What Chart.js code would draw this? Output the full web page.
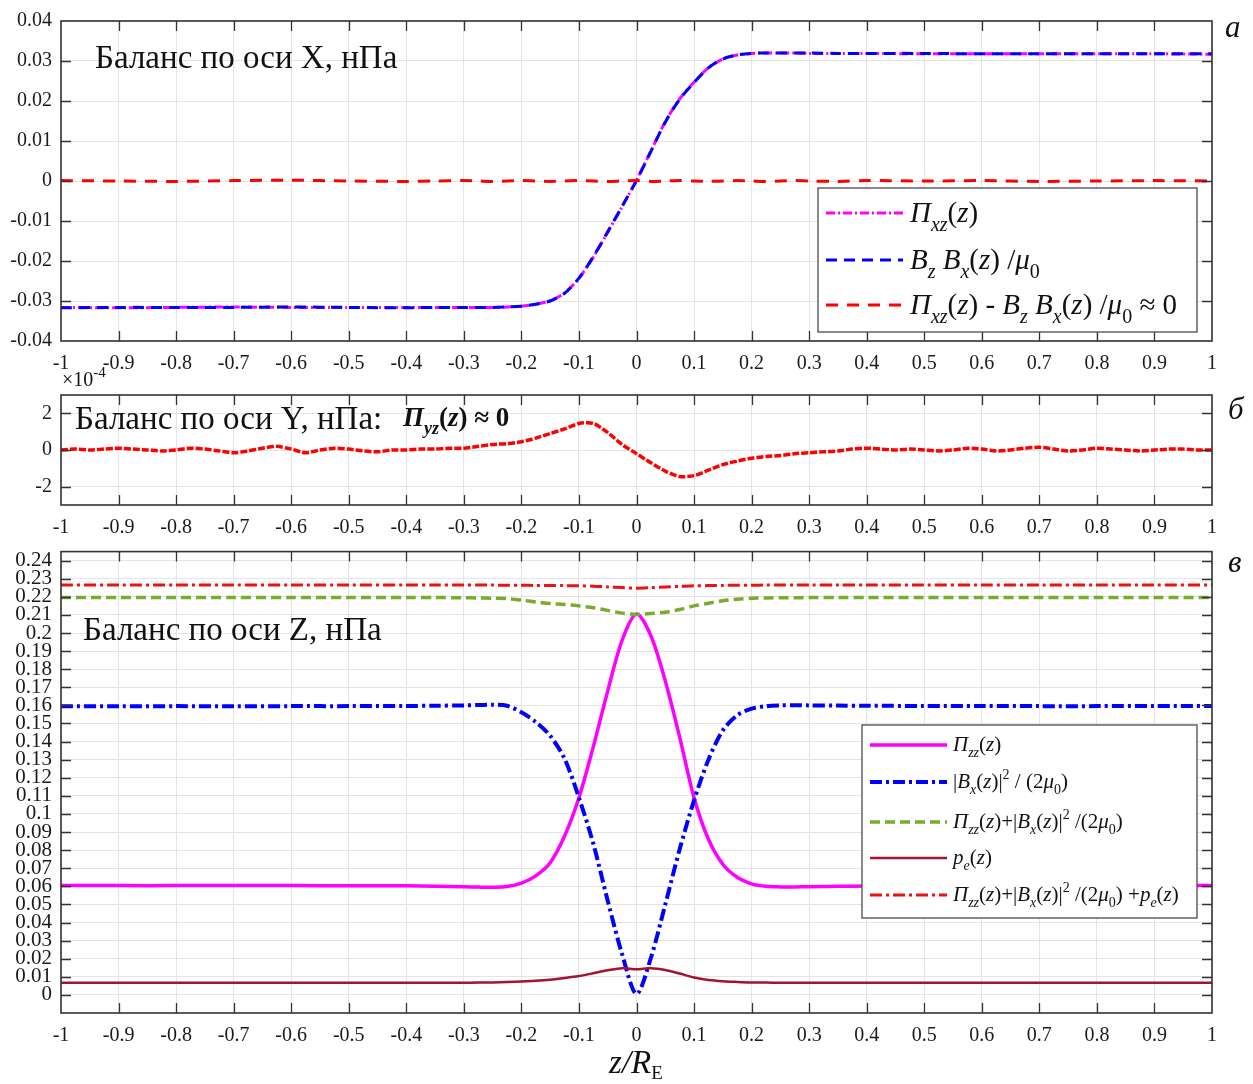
<!DOCTYPE html>
<html><head><meta charset="utf-8">
<script src="https://cdn.jsdelivr.net/npm/chart.js@4.4.1/dist/chart.umd.min.js"></script>
<style>
body{margin:0;background:#fff;width:1253px;height:1084px;overflow:hidden;position:relative}
canvas{position:absolute;left:0}
</style></head><body>
<canvas id="cA" width="1253" height="380" style="top:0px"></canvas>
<canvas id="cB" width="1253" height="180" style="top:360px"></canvas>
<canvas id="cC" width="1253" height="554" style="top:530px"></canvas>
<script>
// ---------- DATA ----------
const zCoarse = [-1,-0.9,-0.8,-0.7,-0.6,-0.5,-0.4,-0.35,-0.3,-0.275,-0.25,-0.225,-0.2,-0.175,-0.15,-0.125,-0.1,-0.075,-0.05,-0.025,0,0.025,0.05,0.075,0.1,0.125,0.15,0.175,0.2,0.225,0.25,0.275,0.3,0.35,0.4,0.5,0.6,0.7,0.8,0.9,1];
const zFine = [-1,-0.975,-0.95,-0.925,-0.9,-0.875,-0.85,-0.825,-0.8,-0.775,-0.75,-0.725,-0.7,-0.675,-0.65,-0.625,-0.6,-0.575,-0.55,-0.525,-0.5,-0.475,-0.45,-0.425,-0.4,-0.375,-0.35,-0.325,-0.3,-0.275,-0.25,-0.225,-0.2,-0.175,-0.15,-0.125,-0.1,-0.075,-0.05,-0.025,0,0.025,0.05,0.075,0.1,0.125,0.15,0.175,0.2,0.225,0.25,0.275,0.3,0.325,0.35,0.375,0.4,0.425,0.45,0.475,0.5,0.525,0.55,0.575,0.6,0.625,0.65,0.675,0.7,0.725,0.75,0.775,0.8,0.825,0.85,0.875,0.9,0.925,0.95,0.975,1];

// panel a (nPa)
const piXZ = [-0.0316,-0.0317,-0.0316,-0.0315,-0.0316,-0.0316,-0.0316,-0.0316,-0.0316,-0.0316,-0.0316,-0.0315,-0.0313,-0.0308,-0.0299,-0.0280,-0.0243,-0.0190,-0.0128,-0.0064,0.0002,0.0075,0.0148,0.0205,0.0247,0.0283,0.0305,0.0315,0.0319,0.0320,0.0320,0.0320,0.0319,0.0319,0.0319,0.0318,0.0318,0.0318,0.0318,0.0318,0.0317];
const bzBx = [-0.0317,-0.0316,-0.0316,-0.0316,-0.0315,-0.0316,-0.0317,-0.0316,-0.0316,-0.0316,-0.0316,-0.0315,-0.0313,-0.0308,-0.0300,-0.0281,-0.0243,-0.0189,-0.0127,-0.0063,0.0001,0.0074,0.0147,0.0204,0.0246,0.0283,0.0305,0.0315,0.0319,0.0320,0.0320,0.0320,0.0320,0.0319,0.0319,0.0319,0.0318,0.0318,0.0318,0.0318,0.0318];
const diffXZ = [0.0001,0.0000,-0.0001,0.0001,0.0002,0.0000,-0.0001,0.0000,0.0001,0.0000,-0.0001,0.0000,0.0001,0.0000,-0.0001,0.0000,0.0001,0.0000,-0.0001,0.0000,0.0001,-0.0001,0.0000,0.0001,0.0000,-0.0001,0.0000,0.0001,0.0000,-0.0001,0.0000,0.0001,0.0000,-0.0001,0.0001,0.0000,0.0001,-0.0001,0.0000,0.0001,0.0000];

// panel b (units of 1e-4 nPa)
const piYZ = [0.00,0.05,0.00,0.05,0.10,0.05,0.00,-0.05,0.00,0.10,0.05,-0.05,-0.15,-0.05,0.10,0.20,0.05,-0.15,0.00,0.10,0.05,-0.05,-0.10,0.00,0.00,0.05,0.05,0.10,0.10,0.20,0.30,0.35,0.45,0.65,0.90,1.15,1.45,1.45,0.95,0.30,-0.20,-0.70,-1.15,-1.45,-1.40,-1.10,-0.80,-0.60,-0.45,-0.35,-0.30,-0.20,-0.15,-0.10,-0.05,0.05,0.10,0.05,0.00,0.05,0.00,-0.05,0.00,0.10,0.05,-0.05,0.00,0.10,0.15,0.05,-0.05,0.00,0.10,0.05,0.00,-0.05,0.00,0.05,0.05,0.00,0.00];

// panel c (nPa)
const piZZ = [0.0605,0.0604,0.0604,0.0605,0.0604,0.0603,0.0603,0.0601,0.0598,0.0596,0.0595,0.0599,0.0618,0.0658,0.0730,0.0878,0.1090,0.1372,0.1680,0.1960,0.2105,0.1985,0.1735,0.1425,0.1090,0.0860,0.0722,0.0650,0.0614,0.0600,0.0597,0.0597,0.0598,0.0600,0.0602,0.0603,0.0604,0.0604,0.0605,0.0605,0.0605];
const bx2 = [0.1595,0.1595,0.1596,0.1595,0.1596,0.1596,0.1597,0.1598,0.1600,0.1602,0.1604,0.1598,0.1562,0.1508,0.1432,0.1305,0.1090,0.0835,0.0520,0.0225,0.0005,0.0205,0.0500,0.0805,0.1075,0.1300,0.1462,0.1545,0.1582,0.1596,0.1600,0.1601,0.1600,0.1599,0.1598,0.1597,0.1597,0.1596,0.1596,0.1596,0.1596];
const sumZ = [0.2196,0.2196,0.2197,0.2196,0.2196,0.2196,0.2196,0.2196,0.2195,0.2194,0.2192,0.2190,0.2182,0.2172,0.2163,0.2158,0.2150,0.2140,0.2125,0.2110,0.2103,0.2108,0.2115,0.2130,0.2150,0.2165,0.2178,0.2187,0.2192,0.2194,0.2195,0.2195,0.2196,0.2196,0.2196,0.2197,0.2196,0.2196,0.2197,0.2196,0.2196];
const pE = [0.0067,0.0067,0.0067,0.0067,0.0067,0.0067,0.0067,0.0067,0.0067,0.0068,0.0069,0.0071,0.0074,0.0078,0.0084,0.0093,0.0104,0.0120,0.0136,0.0148,0.0142,0.0148,0.0138,0.0118,0.0096,0.0083,0.0076,0.0072,0.0069,0.0068,0.0067,0.0067,0.0067,0.0067,0.0067,0.0067,0.0067,0.0067,0.0067,0.0067,0.0067];
const totalZ = [0.2265,0.2265,0.2266,0.2265,0.2265,0.2265,0.2265,0.2265,0.2265,0.2265,0.2265,0.2264,0.2264,0.2263,0.2263,0.2262,0.2261,0.2259,0.2255,0.2251,0.2248,0.2251,0.2255,0.2258,0.2261,0.2262,0.2263,0.2264,0.2264,0.2265,0.2265,0.2265,0.2265,0.2265,0.2266,0.2265,0.2265,0.2266,0.2266,0.2266,0.2266];

// ticks
const xTicks = [-1,-0.9,-0.8,-0.7,-0.6,-0.5,-0.4,-0.3,-0.2,-0.1,0,0.1,0.2,0.3,0.4,0.5,0.6,0.7,0.8,0.9,1];
const xTickLabels = ['-1','-0.9','-0.8','-0.7','-0.6','-0.5','-0.4','-0.3','-0.2','-0.1','0','0.1','0.2','0.3','0.4','0.5','0.6','0.7','0.8','0.9','1'];
const yTicksA = [-0.04,-0.03,-0.02,-0.01,0,0.01,0.02,0.03,0.04];
const yTickLabelsA = ['-0.04','-0.03','-0.02','-0.01','0','0.01','0.02','0.03','0.04'];
const yTicksB = [-2,0,2];
const yTickLabelsB = ['-2','0','2'];
const yTicksC = [0,0.01,0.02,0.03,0.04,0.05,0.06,0.07,0.08,0.09,0.1,0.11,0.12,0.13,0.14,0.15,0.16,0.17,0.18,0.19,0.2,0.21,0.22,0.23,0.24];
const yTickLabelsC = ['0','0.01','0.02','0.03','0.04','0.05','0.06','0.07','0.08','0.09','0.1','0.11','0.12','0.13','0.14','0.15','0.16','0.17','0.18','0.19','0.2','0.21','0.22','0.23','0.24'];

// ---------- HELPERS ----------
const SERIF = "'Liberation Serif','Times New Roman',serif";
const pts = (zs, vs) => zs.map((z,i)=>({x:z,y:vs[i]}));
function mk(size, sub, weight){ const w = weight||''; return {
  I:t=>({t,f:`italic ${w} ${size}px ${SERIF}`,dy:0}),
  N:t=>({t,f:`${w} ${size}px ${SERIF}`,dy:0}),
  Si:t=>({t,f:`italic ${w} ${sub}px ${SERIF}`,dy:Math.round(sub*0.45)}),
  Sn:t=>({t,f:`${w} ${sub}px ${SERIF}`,dy:Math.round(sub*0.45)}),
  P:t=>({t,f:`${w} ${sub}px ${SERIF}`,dy:-Math.round(size*0.42)})
};}
function rich(ctx,x,y,parts){ ctx.textBaseline='alphabetic'; ctx.textAlign='left';
  for(const p of parts){ ctx.font=p.f; ctx.fillText(p.t,x,y+p.dy); x+=ctx.measureText(p.t).width; } return x; }
function drawLegend(chart, box, rows, sx0, sx1, tx, dyText){
  const ctx=chart.ctx; ctx.save();
  ctx.fillStyle='#fff'; ctx.fillRect(box.x,box.y,box.w,box.h);
  ctx.strokeStyle='#4a4a4a'; ctx.lineWidth=1.3; ctx.strokeRect(box.x,box.y,box.w,box.h);
  rows.forEach(r=>{ const ds=chart.data.datasets[r.i];
    ctx.strokeStyle=ds.borderColor; ctx.lineWidth=ds.borderWidth; ctx.setLineDash(ds.borderDash||[]);
    ctx.beginPath(); ctx.moveTo(sx0,r.y); ctx.lineTo(sx1,r.y); ctx.stroke(); ctx.setLineDash([]);
    ctx.fillStyle='#111'; rich(ctx,tx,r.y+dyText,r.parts); });
  ctx.restore();
}
const frame = { id:'frame', afterDatasetsDraw(chart){
  const {ctx, chartArea:a, scales:{x,y}} = chart; const L=10;
  ctx.save(); ctx.strokeStyle='#333'; ctx.lineWidth=1.3; ctx.beginPath();
  x.ticks.forEach(t=>{const px=Math.round(x.getPixelForValue(t.value))+0.5; if(px<=a.left+2||px>=a.right-2) return;
    ctx.moveTo(px,a.bottom); ctx.lineTo(px,a.bottom-L); ctx.moveTo(px,a.top); ctx.lineTo(px,a.top+L);});
  y.ticks.forEach(t=>{const py=Math.round(y.getPixelForValue(t.value))+0.5; if(py<=a.top+2||py>=a.bottom-2) return;
    ctx.moveTo(a.left,py); ctx.lineTo(a.left+L,py); ctx.moveTo(a.right,py); ctx.lineTo(a.right-L,py);});
  ctx.stroke(); ctx.lineWidth=1.6; ctx.strokeRect(a.left,a.top,a.right-a.left,a.bottom-a.top); ctx.restore();
}};
function xScale(h){ return { type:'linear', min:-1, max:1,
  afterBuildTicks:s=>{ s.ticks = xTicks.map(v=>({value:v})); },
  afterFit:s=>{ s.height=h; },
  grid:{color:'#e4e4e4', lineWidth:1, drawTicks:false}, border:{display:false},
  ticks:{autoSkip:false, maxRotation:0, padding:11, color:'#1a1a1a', font:{family:SERIF,size:20}, callback:(v,i)=>xTickLabels[i]} }; }
function yScale(min,max,vals,labels,fs){ return { type:'linear', min, max,
  afterBuildTicks:s=>{ s.ticks = vals.map(v=>({value:v})); },
  afterFit:s=>{ s.width=61; },
  grid:{color:'#e4e4e4', lineWidth:1, drawTicks:false}, border:{display:false},
  ticks:{autoSkip:false, padding:9, color:'#1a1a1a', font:{family:SERIF,size:fs}, callback:(v,i)=>labels[i]} }; }
const baseOpts = (layoutPad, xs, ys, tension) => ({ responsive:false, animation:false, events:[],
  layout:{padding:layoutPad}, scales:{x:xs, y:ys},
  plugins:{legend:{display:false}, tooltip:{enabled:false}},
  elements:{point:{radius:0}, line:{tension:tension}} });

// ---------- PANEL A ----------
const decoA = { id:'decoA', afterDraw(chart){
  const ctx=chart.ctx; ctx.save(); ctx.fillStyle='#111';
  ctx.font=`33px ${SERIF}`; ctx.textAlign='left'; ctx.textBaseline='alphabetic';
  ctx.fillText('Баланс по оси X, нПа', 95, 68);
  ctx.font=`italic 31px ${SERIF}`; ctx.fillText('а', 1225, 37);
  ctx.restore();
  const m=mk(29,20);
  drawLegend(chart,{x:818,y:188,w:379,h:144},[
    {i:0,y:213,parts:[m.I('Π'),m.Si('xz'),m.N('('),m.I('z'),m.N(')')]},
    {i:1,y:260,parts:[m.I('B'),m.Si('z'),m.N(' '),m.I('B'),m.Si('x'),m.N('('),m.I('z'),m.N(') /'),m.I('μ'),m.Sn('0')]},
    {i:2,y:305,parts:[m.I('Π'),m.Si('xz'),m.N('('),m.I('z'),m.N(') - '),m.I('B'),m.Si('z'),m.N(' '),m.I('B'),m.Si('x'),m.N('('),m.I('z'),m.N(') /'),m.I('μ'),m.Sn('0'),m.N(' ≈ 0')]}
  ], 826, 903, 910, 9);
}};
new Chart(document.getElementById('cA'), { type:'line',
  data:{datasets:[
    {label:'Pi_xz', data:pts(zCoarse,piXZ), borderColor:'#ff00ff', borderWidth:3, borderDash:[9,3,2,3], order:3},
    {label:'BzBx', data:pts(zCoarse,bzBx), borderColor:'#0000ff', borderWidth:3, borderDash:[11,7], order:2},
    {label:'diff', data:pts(zCoarse,diffXZ), borderColor:'#ff0000', borderWidth:3, borderDash:[12,9], order:1}
  ]},
  options: baseOpts({top:14,right:41,left:0,bottom:0}, xScale(39), yScale(-0.04,0.04,yTicksA,yTickLabelsA,20), 0.3),
  plugins:[frame, decoA]
});

// ---------- PANEL B ----------
const decoB = { id:'decoB', afterDraw(chart){
  const ctx=chart.ctx; ctx.save(); ctx.fillStyle='#111';
  rich(ctx, 62, 26, [{t:'×10',f:`20px ${SERIF}`,dy:0},{t:'-4',f:`15px ${SERIF}`,dy:-9}]);
  ctx.font=`33px ${SERIF}`; ctx.textAlign='left'; ctx.textBaseline='alphabetic';
  ctx.fillText('Баланс по оси Y, нПа:', 75, 69);
  const m=mk(27,18,'bold');
  rich(ctx, 403, 66, [m.I('Π'),m.Si('yz'),m.N('('),m.I('z'),m.N(') ≈ 0')]);
  ctx.font=`italic 31px ${SERIF}`; ctx.fillText('б', 1228, 59);
  ctx.restore();
}};
new Chart(document.getElementById('cB'), { type:'line',
  data:{datasets:[
    {label:'Pi_yz', data:pts(zFine,piYZ), borderColor:'#ff0000', borderWidth:3.5, borderDash:[7,2]}
  ]},
  options: baseOpts({top:35,right:41,left:0,bottom:0}, xScale(35), yScale(-3,3,yTicksB,yTickLabelsB,20), 0.25),
  plugins:[frame, decoB]
});

// ---------- PANEL C ----------
const decoC = { id:'decoC', afterDraw(chart){
  const ctx=chart.ctx; ctx.save(); ctx.fillStyle='#111';
  ctx.font=`33px ${SERIF}`; ctx.textAlign='left'; ctx.textBaseline='alphabetic';
  ctx.fillText('Баланс по оси Z, нПа', 83, 110);
  ctx.font=`italic 31px ${SERIF}`; ctx.fillText('в', 1228, 42);
  const parts=[{t:'z/R',f:`italic 33px ${SERIF}`,dy:0},{t:'E',f:`19px ${SERIF}`,dy:6}];
  let w=0; parts.forEach(p=>{ctx.font=p.f; w+=ctx.measureText(p.t).width;});
  rich(ctx, 636-w/2, 543, parts);
  ctx.restore();
  const m=mk(21,14);
  drawLegend(chart,{x:862,y:195,w:335,h:193},[
    {i:0,y:215,parts:[m.I('Π'),m.Si('zz'),m.N('('),m.I('z'),m.N(')')]},
    {i:1,y:252,parts:[m.N('|'),m.I('B'),m.Si('x'),m.N('('),m.I('z'),m.N(')|'),m.P('2'),m.N(' / (2'),m.I('μ'),m.Sn('0'),m.N(')')]},
    {i:2,y:292,parts:[m.I('Π'),m.Si('zz'),m.N('('),m.I('z'),m.N(')+|'),m.I('B'),m.Si('x'),m.N('('),m.I('z'),m.N(')|'),m.P('2'),m.N(' /(2'),m.I('μ'),m.Sn('0'),m.N(')')]},
    {i:3,y:328,parts:[m.I('p'),m.Si('e'),m.N('('),m.I('z'),m.N(')')]},
    {i:4,y:365,parts:[m.I('Π'),m.Si('zz'),m.N('('),m.I('z'),m.N(')+|'),m.I('B'),m.Si('x'),m.N('('),m.I('z'),m.N(')|'),m.P('2'),m.N(' /(2'),m.I('μ'),m.Sn('0'),m.N(') +'),m.I('p'),m.Si('e'),m.N('('),m.I('z'),m.N(')')]}
  ], 870, 947, 953, 6);
}};
new Chart(document.getElementById('cC'), { type:'line',
  data:{datasets:[
    {label:'Pi_zz', data:pts(zCoarse,piZZ), borderColor:'#ff00ff', borderWidth:3.5, borderDash:[], order:5},
    {label:'Bx2', data:pts(zCoarse,bx2), borderColor:'#0000ff', borderWidth:4, borderDash:[12,4,3,4], order:4},
    {label:'sum', data:pts(zCoarse,sumZ), borderColor:'#77ac30', borderWidth:3.5, borderDash:[10,5], order:3},
    {label:'pe', data:pts(zCoarse,pE), borderColor:'#a2142f', borderWidth:2.5, borderDash:[], order:2},
    {label:'total', data:pts(zCoarse,totalZ), borderColor:'#ee1111', borderWidth:3, borderDash:[12,4,3,4], order:1}
  ]},
  options: baseOpts({top:12,right:41,left:0,bottom:0}, xScale(71), yScale(-0.01,0.245,yTicksC,yTickLabelsC,21), 0.3),
  plugins:[frame, decoC]
});
</script>
</body></html>
